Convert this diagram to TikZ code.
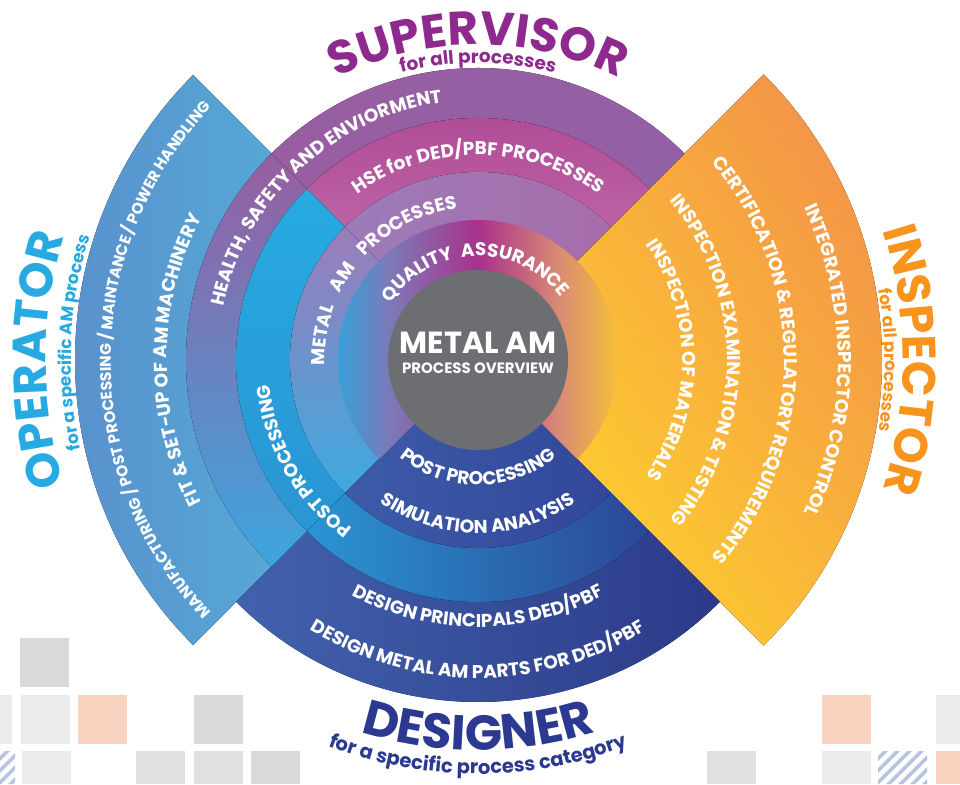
\documentclass[tikz,border=0pt]{standalone}
\usepackage{fontspec}
\setmainfont{Poppins}
\usetikzlibrary{decorations.text}
\definecolor{supc}{HTML}{8E2A8E}
\definecolor{insc}{HTML}{F7941D}
\definecolor{opc}{HTML}{27AAE1}
\definecolor{desc}{HTML}{2B3990}
\definecolor{wingL}{HTML}{5A8DCB}
\definecolor{wingR}{HTML}{55ACD8}
\definecolor{orT}{HTML}{F39149}
\definecolor{orB}{HTML}{FDCB30}
\definecolor{desL}{HTML}{4262AD}
\definecolor{desR}{HTML}{2C3A88}
\definecolor{hlS}{HTML}{985EA1}
\definecolor{hlM}{HTML}{A8418D}
\definecolor{hlE}{HTML}{935FA6}
\definecolor{hlB}{HTML}{3DA6DE}
\definecolor{hseT}{HTML}{AD4893}
\definecolor{hseB}{HTML}{BD62A6}
\definecolor{ppT}{HTML}{27AAE1}
\definecolor{ppM}{HTML}{2A95D3}
\definecolor{ppE}{HTML}{2B4696}
\definecolor{maL}{HTML}{9C7CB9}
\definecolor{maM}{HTML}{A56FAE}
\definecolor{maR}{HTML}{A86CAA}
\definecolor{maB}{HTML}{3DAAE0}
\definecolor{dkL}{HTML}{3D5BA8}
\definecolor{dkR}{HTML}{32479A}
\definecolor{qaA}{HTML}{27AAE1}
\definecolor{qaB}{HTML}{7E78B6}
\definecolor{qaC}{HTML}{A8318B}
\definecolor{qaD}{HTML}{D98A74}
\definecolor{qaE}{HTML}{FCCB2E}
\definecolor{core}{HTML}{6D6E71}
\definecolor{sqA}{HTML}{D9D9D9}
\definecolor{sqB}{HTML}{EBEBEB}
\definecolor{sqC}{HTML}{DFE0E2}
\definecolor{peach}{HTML}{F9D2C0}
\definecolor{hatchc}{HTML}{B8C3E3}
\pgfdeclarehorizontalshading{qa}{100bp}{color(0bp)=(qaA); color(25bp)=(qaA); color(36bp)=(qaB); color(50bp)=(qaC); color(63bp)=(qaD); color(75bp)=(qaE); color(100bp)=(qaE)}
\newcommand\ann[4]{([shift={(C)}]#1:#4) arc[start angle=#1,end angle=#2,radius=#4] -- ([shift={(C)}]#2:#3) arc[start angle=#2,end angle=#1,radius=#3] -- cycle}
\newcommand\tarc[5]{\path[decorate,decoration={text along path,text align=center,text={|#5|#4}}] ([shift={(C)}]#1:#3) arc[start angle=#1,end angle=#2,radius=#3];}
\newcommand\rf{\fontsize{18.5}{19}\selectfont\bfseries\color{white}}
\newcommand\wf{\fontsize{15.5}{16}\selectfont\bfseries\color{white}}
\newcommand\bigf[1]{\fontsize{47}{47}\selectfont\bfseries\color{#1}}
\newcommand\smf[1]{\fontsize{17}{17}\selectfont\bfseries\color{#1}}
\newcommand\mdf[1]{\fontsize{18.5}{19}\selectfont\bfseries\color{#1}}
\begin{document}
\begin{tikzpicture}[x=1pt,y=1pt]
\useasboundingbox (0,0) rectangle (960,784);
\coordinate (C) at (478,424);
% decorative squares
\fill[sqA] (20,146) rectangle (69,97);
\fill[sqB] (0,89) rectangle (12,40);
\fill[sqB] (21,89) rectangle (70,40);
\fill[peach] (78,89) rectangle (127,40);
\fill[sqA] (194,89) rectangle (243,40);
\fill[peach] (822,89) rectangle (871,40);
\fill[sqB] (936,89) rectangle (960,40);
\fill[sqB] (22,33) rectangle (71,0);
\fill[sqC] (136,33) rectangle (185,0);
\fill[sqC] (194,33) rectangle (243,0);
\fill[sqA] (251,33) rectangle (300,0);
\fill[sqC] (707,33) rectangle (756,0);
\fill[sqB] (822,33) rectangle (871,0);
\fill[peach] (936,33) rectangle (960,0);
\begin{scope}
\clip (0,33) rectangle (15,0);
\foreach \k in {0,...,5} \fill[hatchc] ({-40+\k*12},0) -- ++(5,0) -- ++(33,33) -- ++(-5,0) -- cycle;
\end{scope}
\begin{scope}
\clip (878,33) rectangle (927,0);
\foreach \k in {0,...,9} \fill[hatchc] ({838+\k*12},0) -- ++(5,0) -- ++(33,33) -- ++(-5,0) -- cycle;
\end{scope}
% wings and rings
\fill[left color=wingL, right color=wingR] \ann{135}{225}{240}{403};
\fill[top color=orT, bottom color=orB, shading angle=-55] \ann{-45}{45}{139}{404};
\fill[left color=desL, right color=desR] \ann{225}{315}{240}{342};
\fill[left color=hlS, middle color=hlM, right color=hlE] \ann{45}{135.5}{241}{292};
\fill[top color=hlS, bottom color=hlB] \ann{135}{225}{241}{292};
\fill[top color=hseT, bottom color=hseB] \ann{45}{135}{187}{242};
\fill[top color=ppT, bottom color=ppM] \ann{135}{225.3}{187}{242};
\fill[left color=ppM, right color=ppE] \ann{225}{315}{187}{242};
\fill[left color=maL, middle color=maM, right color=maR] \ann{45}{135.5}{139}{188};
\fill[top color=maL, bottom color=maB] \ann{135}{225}{139}{188};
\fill[left color=dkL, right color=dkR] \ann{225}{315}{1}{188};
\shade[shading=qa] \ann{-45}{225}{88}{140};
\fill[core] (C) circle[radius=90];
\node[font=\fontsize{30.5}{31}\selectfont\bfseries, text=white, inner sep=0pt] (m1) at (478,441) {METAL AM};
\node[font=\fontsize{15}{15}\selectfont\bfseries, text=white, inner sep=0pt] (m2) at (478,416) {PROCESS OVERVIEW};
% ring texts
\tarc{172}{12}{104}{QUALITY{\kern8pt}ASSURANCE}{\rf}
\tarc{230}{50}{153}{METAL{\kern14pt}AM{\kern14pt}PROCESSES}{\rf}
\tarc{170}{10}{205}{HSE for DED/PBF PROCESSES}{\rf}
\tarc{223}{43}{260}{HEALTH, SAFETY AND ENVIORMENT}{\rf}
\tarc{280}{140}{210}{POST PROCESSING}{\rf}
\tarc{200}{340}{125}{POST PROCESSING}{\rf}
\tarc{200}{340}{173}{SIMULATION ANALYSIS}{\rf}
\tarc{200}{340}{267}{DESIGN PRINCIPALS DED/PBF}{\rf}
\tarc{200}{340}{318}{DESIGN METAL AM PARTS FOR DED/PBF}{\rf}
\tarc{70}{-70}{204}{INSPECTION OF MATERIALS}{\rf}
\tarc{70}{-70}{249}{INSPECTION EXAMINATION {\&} TESTING}{\rf}
\tarc{70}{-70}{306}{CERTIFICATION {\&} REGULATORY REQUIREMENTS}{\rf}
\tarc{70}{-70}{360}{INTEGRATED INSPECTOR CONTROL}{\rf}
\tarc{250}{110}{367}{MANUFACTURING / POST PROCESSING / MAINTANCE / POWER HANDLING}{\wf}
\tarc{250}{110}{311}{FIT {\&} SET-UP OF AM MACHINERY}{\rf}
% outer labels
\tarc{140}{40}{315}{SUPERVISOR}{\bigf{supc}}
\tarc{130}{50}{297}{for all processes}{\mdf{supc}}
\tarc{45}{-45}{425}{INSPECTOR}{\bigf{insc}}
\tarc{40}{-40}{407}{for all processes}{\smf{insc}}
\tarc{225}{135}{432}{OPERATOR}{\bigf{opc}}
\tarc{222}{133}{407}{for a specific AM process}{\smf{opc}}
\tarc{230}{310}{390}{DESIGNER}{\fontsize{49}{49}\selectfont\bfseries\color{desc}}
\tarc{225}{315}{414}{for a specific process category}{\fontsize{19.5}{20}\selectfont\bfseries\color{desc}}
\end{tikzpicture}
\end{document}
